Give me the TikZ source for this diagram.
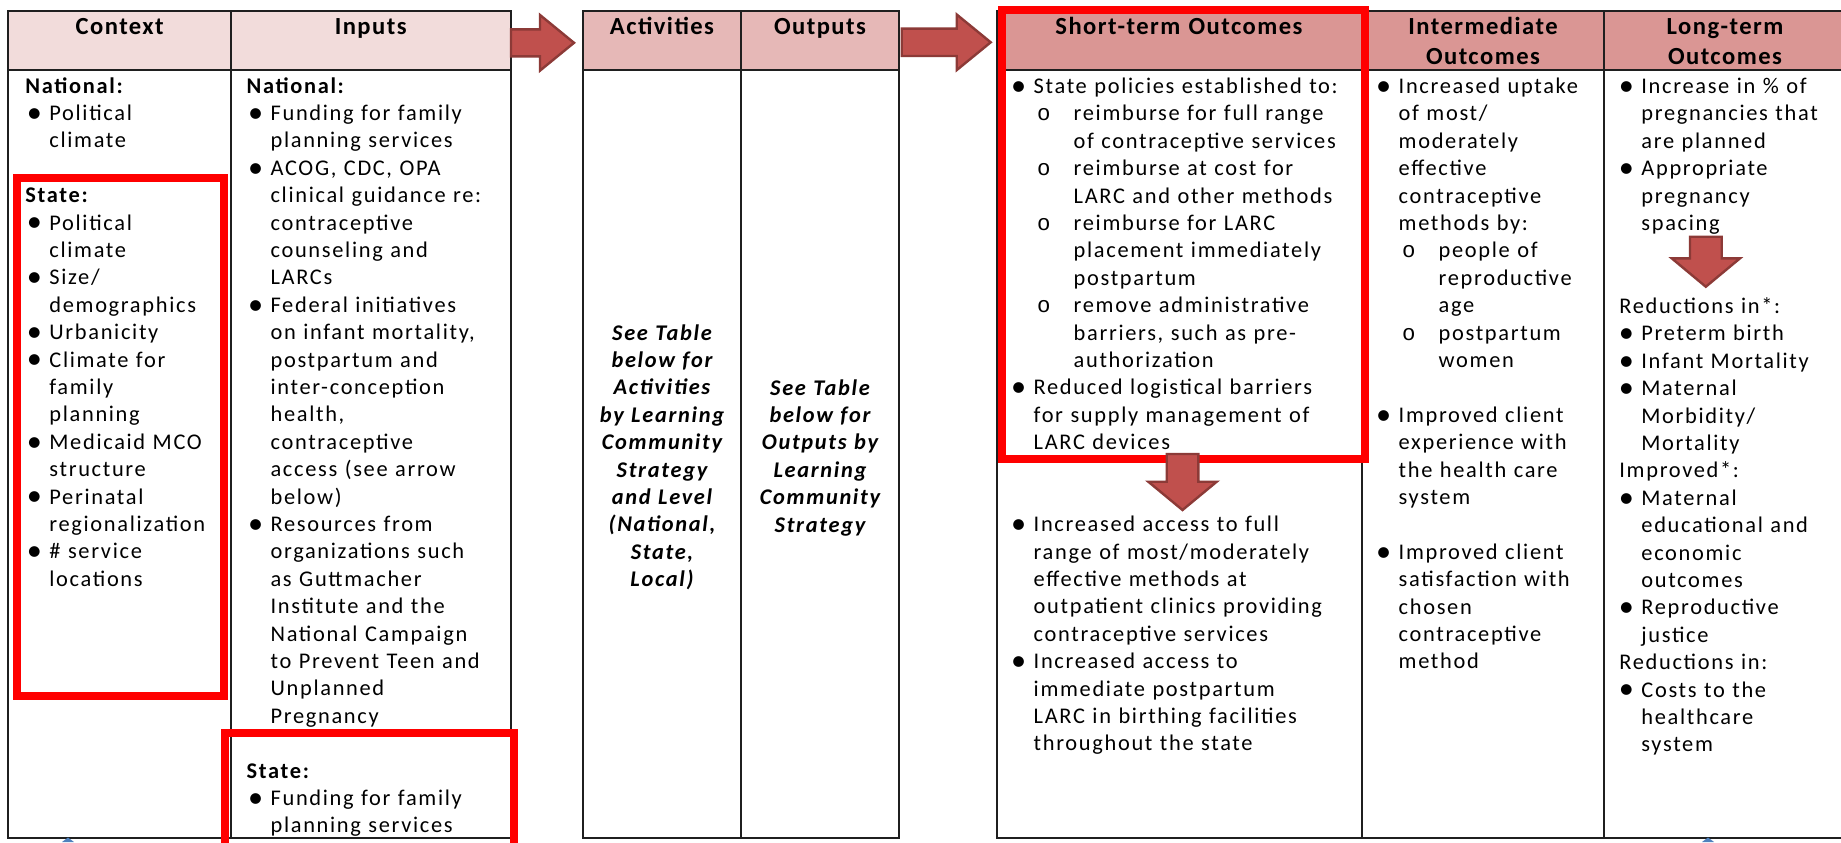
\documentclass[tikz,border=0pt]{standalone}
\usepackage{graphicx}
\usepackage{fontspec}
\setmainfont{Carlito}[LetterSpace=7.5]
\newfontfamily\monof{Liberation Mono}
\definecolor{hdA}{HTML}{F2DCDB}
\definecolor{hdB}{HTML}{E6B8B7}
\definecolor{hdC}{HTML}{DA9694}
\definecolor{arrfill}{HTML}{C0504D}
\definecolor{arrline}{HTML}{8C3A37}
\definecolor{tipblue}{HTML}{4F81BD}
\newcommand\bB{\leavevmode\llap{\makebox[11.3pt][l]{\smash{\raisebox{-0.9pt}{\scalebox{1.35}{\textbullet}}}}}}
\newcommand\sB{\hspace*{20pt}\llap{\makebox[18.3pt][l]{\monof o}}}
\newcommand\iN{\hspace*{20pt}}
\newcommand\hD[1]{\hspace*{-12pt}\textbf{#1}}
\newcommand\hR[1]{\hspace*{-11pt}#1}
\newcommand\gp{\\[13.7pt]}
\tikzset{
  tline/.style={draw=black!88, line width=1pt},
  redbox/.style={draw=red, line width=4pt},
  blockarrow/.style={fill=arrfill, draw=arrline, line width=1.2pt, line join=miter},
  body/.style={anchor=base west, inner sep=0pt, text width=220pt, align=left, font=\fontsize{11.2pt}{13.7pt}\selectfont},
  midtext/.style={anchor=base, inner sep=0pt, text width=90pt, align=center, font=\fontsize{11.2pt}{13.7pt}\selectfont\bfseries\itshape},
  head/.style={anchor=base, inner sep=0pt, text width=160pt, align=center, font=\fontsize{12.3pt}{15pt}\selectfont\bfseries\addfontfeature{LetterSpace=6}},
}
\begin{document}
\begin{tikzpicture}[x=0.5pt,y=-0.5pt]
\useasboundingbox (0,0) rectangle (1841,842);
\clip (0,0) rectangle (1841,842);
\fill[white] (0,0) rectangle (1841,842);
% header fills
\fill[hdA] (8.4,10.5) rectangle (510.5,70);
\fill[hdB] (583,10.5) rectangle (899,70);
\fill[hdC] (997,10.5) rectangle (1860,70);
% table lines
\draw[tline] (8.4,10.5) rectangle (510.5,838) (8.4,70) -- (510.5,70) (231,10.5) -- (231,838);
\draw[tline] (583,10.5) rectangle (899,838) (583,70) -- (899,70) (741,10.5) -- (741,838);
\draw[tline] (1860,10.5) -- (997,10.5) -- (997,838) -- (1860,838) (997,70) -- (1860,70) (1362,10.5) -- (1362,838) (1604,10.5) -- (1604,838);
% headers
\node[head] (hctx) at (119.7,34) {Context};
\node[head] (hinp) at (370.7,34) {Inputs};
\node[head] (hact) at (662,34) {Activities};
\node[head] (hout) at (820,34) {Outputs};
\node[head] (hst) at (1179,34) {Short-term Outcomes};
\node[head] (hint) at (1483,34) {Intermediate\\Outcomes};
\node[head] (hlt) at (1725,34) {Long-term\\Outcomes};
% context
\node[body] (ctx) at (49,93) {\hD{National:}\\
\bB Political\\
climate\gp
\hD{State:}\\
\bB Political\\
climate\\
\bB Size/\\
demographics\\
\bB Urbanicity\\
\bB Climate for\\
family\\
planning\\
\bB Medicaid MCO\\
structure\\
\bB Perinatal\\
regionalization\\
\bB \# service\\
locations};
% inputs
\node[body] (inp) at (270.2,93) {\hD{National:}\\
\bB Funding for family\\
planning services\\
\bB ACOG, CDC, OPA\\
clinical guidance re:\\
contraceptive\\
counseling and\\
LARCs\\
\bB Federal initiatives\\
on infant mortality,\\
postpartum and\\
inter-conception\\
health,\\
contraceptive\\
access (see arrow\\
below)\\
\bB Resources from\\
organizations such\\
as Guttmacher\\
Institute and the\\
National Campaign\\
to Prevent Teen and\\
Unplanned\\
Pregnancy\gp
\hD{State:}\\
\bB Funding for family\\
planning services};
% activities / outputs
\node[midtext] (act) at (662,340) {See Table\\ below for\\ Activities\\ by Learning\\ Community\\ Strategy\\ and Level\\ (National,\\ State,\\ Local)};
\node[midtext] (out) at (820,395) {See Table\\ below for\\ Outputs by\\ Learning\\ Community\\ Strategy};
% short-term
\node[body] (st1) at (1033.3,93.5) {\bB State policies established to:\\
\sB reimburse for full range\\
\iN of contraceptive services\\
\sB reimburse at cost for\\
\iN LARC and other methods\\
\sB reimburse for LARC\\
\iN placement immediately\\
\iN postpartum\\
\sB remove administrative\\
\iN barriers, such as pre-\\
\iN authorization\\
\bB Reduced logistical barriers\\
for supply management of\\
LARC devices};
\node[body] (st2) at (1033.3,531.7) {\bB Increased access to full\\
range of most/moderately\\
effective methods at\\
outpatient clinics providing\\
contraceptive services\\
\bB Increased access to\\
immediate postpartum\\
LARC in birthing facilities\\
throughout the state};
% intermediate
\node[body] (imd) at (1398.3,93.5) {\bB Increased uptake\\
of most/\\
moderately\\
effective\\
contraceptive\\
methods by:\\
\sB people of\\
\iN reproductive\\
\iN age\\
\sB postpartum\\
\iN women\gp
\bB Improved client\\
experience with\\
the health care\\
system\gp
\bB Improved client\\
satisfaction with\\
chosen\\
contraceptive\\
method};
% long-term
\node[body] (lt1) at (1641,93.5) {\bB Increase in \% of\\
pregnancies that\\
are planned\\
\bB Appropriate\\
pregnancy\\
spacing};
\node[body] (lt2) at (1641,313.5) {\hR{Reductions in*:}\\
\bB Preterm birth\\
\bB Infant Mortality\\
\bB Maternal\\
Morbidity/\\
Mortality\\
\hR{Improved*:}\\
\bB Maternal\\
educational and\\
economic\\
outcomes\\
\bB Reproductive\\
justice\\
\hR{Reductions in:}\\
\bB Costs to the\\
healthcare\\
system};
% red highlight boxes
\draw[redbox] (16.8,177.8) rectangle (224.3,696);
\draw[redbox] (225.3,733) rectangle (514.3,900);
\draw[redbox] (1001.7,10.3) rectangle (1364.7,459.2);
% block arrows
\draw[blockarrow] (511,29.3) -- (540,29.3) -- (540,15) -- (574,42.8) -- (540,70.6) -- (540,56.4) -- (511,56.4) -- cycle;
\draw[blockarrow] (901.7,28.6) -- (956.7,28.6) -- (956.7,14.5) -- (990.7,42.3) -- (956.7,70.1) -- (956.7,56) -- (901.7,56) -- cycle;
\draw[blockarrow] (1166.7,454) -- (1198.3,454) -- (1198.3,481.7) -- (1216.7,481.7) -- (1182.5,510) -- (1148.3,481.7) -- (1166.7,481.7) -- cycle;
\draw[blockarrow] (1690,236.7) -- (1721.7,236.7) -- (1721.7,258.3) -- (1740,258.3) -- (1705.8,286.7) -- (1671.7,258.3) -- (1690,258.3) -- cycle;
% tips of shapes cut off below the picture
\fill[tipblue] (62,842) -- (68,837.5) -- (74,842) -- cycle;
\fill[tipblue] (1702,842) -- (1708,837.5) -- (1714,842) -- cycle;
\end{tikzpicture}
\end{document}
